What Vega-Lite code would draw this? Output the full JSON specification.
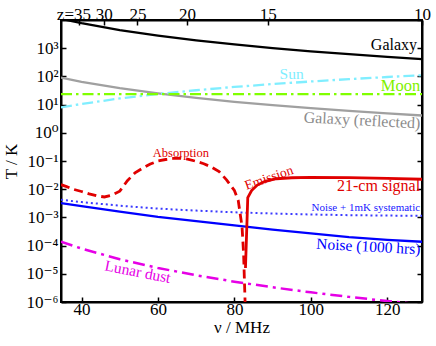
{
  "$schema": "https://vega.github.io/schema/vega-lite/v6.json",
  "width": 361,
  "height": 282,
  "autosize": {"type": "none"},
  "padding": {"left": 61, "top": 20, "right": 14, "bottom": 44},
  "background": "white",
  "config": {
    "view": {"stroke": "black", "strokeWidth": 2},
    "font": "'Liberation Serif', 'Times New Roman', 'DejaVu Serif', serif",
    "text": {"font": "'Liberation Serif', 'Times New Roman', 'DejaVu Serif', serif"},
    "axis": {
      "grid": false,
      "domainColor": "black",
      "domainWidth": 2,
      "tickColor": "black",
      "tickWidth": 1.5,
      "tickSize": -5,
      "labelColor": "black",
      "titleColor": "black",
      "labelFont": "'Liberation Serif', 'Times New Roman', 'DejaVu Serif', serif",
      "titleFont": "'Liberation Serif', 'Times New Roman', 'DejaVu Serif', serif",
      "labelFontSize": 17,
      "titleFontSize": 17,
      "titleFontWeight": "normal",
      "labelFlush": false,
      "labelOverlap": false
    }
  },
  "datasets": {
    "galaxy": [
      {"nu": 34.63, "T": 10990}, {"nu": 40, "T": 7672}, {"nu": 50, "T": 4392}, {"nu": 60, "T": 2784},
      {"nu": 70, "T": 1893}, {"nu": 80, "T": 1356}, {"nu": 90, "T": 1010}, {"nu": 100, "T": 776},
      {"nu": 110, "T": 612}, {"nu": 120, "T": 492}, {"nu": 129.09, "T": 410}
    ],
    "reflected": [
      {"nu": 34.63, "T": 90.3}, {"nu": 40, "T": 64.3}, {"nu": 50, "T": 38.1}, {"nu": 60, "T": 24.8},
      {"nu": 70, "T": 17.3}, {"nu": 80, "T": 12.6}, {"nu": 90, "T": 9.57}, {"nu": 100, "T": 7.47},
      {"nu": 110, "T": 5.97}, {"nu": 120, "T": 4.87}, {"nu": 129.09, "T": 4.1}
    ],
    "sun": [
      {"nu": 34.63, "T": 7.92}, {"nu": 40, "T": 10.56}, {"nu": 50, "T": 16.5}, {"nu": 60, "T": 23.8},
      {"nu": 70, "T": 32.3}, {"nu": 80, "T": 42.3}, {"nu": 90, "T": 53.5}, {"nu": 100, "T": 66.0},
      {"nu": 110, "T": 79.9}, {"nu": 120, "T": 95.1}, {"nu": 129.09, "T": 110}
    ],
    "moon": [
      {"nu": 34.63, "T": 23.5}, {"nu": 80, "T": 23.5}, {"nu": 129.09, "T": 23.5}
    ],
    "absorption": [
      {"nu": 34.63, "T": 0.0145}, {"nu": 36.1, "T": 0.0123}, {"nu": 38, "T": 0.0098}, {"nu": 40, "T": 0.0083},
      {"nu": 42, "T": 0.0068}, {"nu": 44, "T": 0.0058}, {"nu": 46, "T": 0.0053}, {"nu": 48, "T": 0.0062},
      {"nu": 50, "T": 0.0085}, {"nu": 52, "T": 0.02}, {"nu": 54, "T": 0.038}, {"nu": 56, "T": 0.056},
      {"nu": 58, "T": 0.078}, {"nu": 60, "T": 0.1}, {"nu": 62, "T": 0.113}, {"nu": 64, "T": 0.123},
      {"nu": 66, "T": 0.125}, {"nu": 68, "T": 0.115}, {"nu": 70, "T": 0.097}, {"nu": 72, "T": 0.08},
      {"nu": 74, "T": 0.061}, {"nu": 76, "T": 0.042}, {"nu": 78, "T": 0.021}, {"nu": 80, "T": 0.009},
      {"nu": 81, "T": 0.004}, {"nu": 82, "T": 0.00047}, {"nu": 82.4, "T": 0.000055}, {"nu": 82.8, "T": 0.000001},
      {"nu": 82.9, "T": 0.0000003}
    ],
    "emission": [
      {"nu": 82.9, "T": 0.000016}, {"nu": 83.5, "T": 0.005}, {"nu": 84.5, "T": 0.009}, {"nu": 86, "T": 0.014},
      {"nu": 88, "T": 0.019}, {"nu": 91, "T": 0.0235}, {"nu": 95, "T": 0.0255}, {"nu": 100, "T": 0.0262},
      {"nu": 110, "T": 0.0256}, {"nu": 120, "T": 0.0242}, {"nu": 129.09, "T": 0.0225}
    ],
    "noise": [
      {"nu": 34.63, "T": 0.0032}, {"nu": 40, "T": 0.0025}, {"nu": 50, "T": 0.0016}, {"nu": 60, "T": 0.00105},
      {"nu": 70, "T": 0.00074}, {"nu": 80, "T": 0.00052}, {"nu": 90, "T": 0.00037}, {"nu": 100, "T": 0.00027},
      {"nu": 110, "T": 0.0002}, {"nu": 120, "T": 0.00016}, {"nu": 129.09, "T": 0.000137}
    ],
    "noisesys": [
      {"nu": 34.63, "T": 0.0042}, {"nu": 40, "T": 0.0035}, {"nu": 50, "T": 0.0026}, {"nu": 60, "T": 0.00205},
      {"nu": 70, "T": 0.00174}, {"nu": 80, "T": 0.00152}, {"nu": 90, "T": 0.00137}, {"nu": 100, "T": 0.00127},
      {"nu": 110, "T": 0.0012}, {"nu": 120, "T": 0.00116}, {"nu": 129.09, "T": 0.001137}
    ],
    "dust": [
      {"nu": 34.63, "T": 0.000138}, {"nu": 40, "T": 0.0000784}, {"nu": 50, "T": 0.0000328}, {"nu": 60, "T": 0.0000161},
      {"nu": 70, "T": 0.00000884}, {"nu": 80, "T": 0.00000525}, {"nu": 90, "T": 0.00000332}, {"nu": 100, "T": 0.0000022},
      {"nu": 110, "T": 0.00000152}, {"nu": 120, "T": 0.00000108}, {"nu": 129.09, "T": 0.00000081}
    ],
    "labels": [
      {"label": "Galaxy", "nu": 127.8, "T": 863},
      {"label": "Sun", "nu": 94.97, "T": 80.9},
      {"label": "Moon", "nu": 128.6, "T": 31.6},
      {"label": "Galaxy (reflected)", "nu": 128.6, "T": 1.42},
      {"label": "21-cm signal", "nu": 128.6, "T": 0.00863},
      {"label": "Emission", "nu": 89.4, "T": 0.01845},
      {"label": "Absorption", "nu": 66.0, "T": 0.1387},
      {"label": "Noise + 1mK systematic", "nu": 128.6, "T": 0.001687},
      {"label": "Noise (1000 hrs)", "nu": 128.6, "T": 0.0000491},
      {"label": "Lunar dust", "nu": 54.47, "T": 0.00000788}
    ]
  },
  "layer": [
    {
      "encoding": {
        "x": {
          "field": "nu", "type": "quantitative",
          "scale": {"domain": [34.63, 129.09], "nice": false, "zero": false},
          "axis": {"orient": "bottom", "title": "ν / MHz", "values": [40, 60, 80, 100, 120], "labelPadding": 4, "titlePadding": 2}
        },
        "y": {
          "field": "T", "type": "quantitative",
          "scale": {"type": "log", "domain": [0.000001, 10000], "nice": false},
          "axis": {
            "orient": "left", "title": "T / K",
            "values": [0.000001, 0.00001, 0.0001, 0.001, 0.01, 0.1, 1, 10, 100, 1000],
            "labelExpr": "'10' + (round(log(datum.value)/LN10) < 0 ? '⁻' : '') + substring('⁰¹²³⁴⁵⁶⁷⁸⁹', abs(round(log(datum.value)/LN10)), abs(round(log(datum.value)/LN10)) + 1)",
            "labelPadding": 8, "titlePadding": 6
          }
        }
      },
      "layer": [
        {"data": {"name": "galaxy"}, "mark": {"type": "line", "clip": true, "color": "black", "strokeWidth": 2.3}},
        {"data": {"name": "reflected"}, "mark": {"type": "line", "clip": true, "color": "#a0a0a0", "strokeWidth": 2.3}},
        {"data": {"name": "sun"}, "mark": {"type": "line", "clip": true, "color": "#80eeff", "strokeWidth": 2.3, "strokeDash": [11, 4, 2.5, 4]}},
        {"data": {"name": "moon"}, "mark": {"type": "line", "clip": true, "color": "#80ff00", "strokeWidth": 2.3, "strokeDash": [11, 4, 2.5, 4]}},
        {"data": {"name": "noisesys"}, "mark": {"type": "line", "clip": true, "color": "#3a3aff", "strokeWidth": 2, "strokeDash": [2, 3]}},
        {"data": {"name": "noise"}, "mark": {"type": "line", "clip": true, "color": "#0000ff", "strokeWidth": 2.3}},
        {"data": {"name": "dust"}, "mark": {"type": "line", "clip": true, "color": "#e600e6", "strokeWidth": 2.5, "strokeDash": [12, 5, 3, 5]}},
        {"data": {"name": "absorption"}, "mark": {"type": "line", "clip": true, "color": "#e00000", "strokeWidth": 2.8, "strokeDash": [9, 5]}},
        {"data": {"name": "emission"}, "mark": {"type": "line", "clip": true, "color": "#e00000", "strokeWidth": 2.8}},
        {"data": {"name": "labels"}, "transform": [{"filter": "datum.label == 'Galaxy'"}],
         "mark": {"type": "text", "align": "right", "baseline": "alphabetic", "fontSize": 16, "color": "black"},
         "encoding": {"text": {"field": "label"}}},
        {"data": {"name": "labels"}, "transform": [{"filter": "datum.label == 'Sun'"}],
         "mark": {"type": "text", "align": "center", "baseline": "alphabetic", "fontSize": 15.5, "color": "#80eeff"},
         "encoding": {"text": {"field": "label"}}},
        {"data": {"name": "labels"}, "transform": [{"filter": "datum.label == 'Moon'"}],
         "mark": {"type": "text", "align": "right", "baseline": "alphabetic", "fontSize": 16.5, "color": "#80f000"},
         "encoding": {"text": {"field": "label"}}},
        {"data": {"name": "labels"}, "transform": [{"filter": "datum.label == 'Galaxy (reflected)'"}],
         "mark": {"type": "text", "align": "right", "baseline": "alphabetic", "fontSize": 16, "angle": 3, "color": "#8c8c8c"},
         "encoding": {"text": {"field": "label"}}},
        {"data": {"name": "labels"}, "transform": [{"filter": "datum.label == '21-cm signal'"}],
         "mark": {"type": "text", "align": "right", "baseline": "alphabetic", "fontSize": 16, "color": "#e00000"},
         "encoding": {"text": {"field": "label"}}},
        {"data": {"name": "labels"}, "transform": [{"filter": "datum.label == 'Emission'"}],
         "mark": {"type": "text", "align": "center", "baseline": "alphabetic", "fontSize": 13.5, "angle": -19, "color": "#e00000"},
         "encoding": {"text": {"field": "label"}}},
        {"data": {"name": "labels"}, "transform": [{"filter": "datum.label == 'Absorption'"}],
         "mark": {"type": "text", "align": "center", "baseline": "alphabetic", "fontSize": 12.5, "color": "#e00000"},
         "encoding": {"text": {"field": "label"}}},
        {"data": {"name": "labels"}, "transform": [{"filter": "datum.label == 'Noise + 1mK systematic'"}],
         "mark": {"type": "text", "align": "right", "baseline": "alphabetic", "fontSize": 11, "color": "#2020ff"},
         "encoding": {"text": {"field": "label"}}},
        {"data": {"name": "labels"}, "transform": [{"filter": "datum.label == 'Noise (1000 hrs)'"}],
         "mark": {"type": "text", "align": "right", "baseline": "alphabetic", "fontSize": 15.5, "angle": 3, "color": "#0000ff"},
         "encoding": {"text": {"field": "label"}}},
        {"data": {"name": "labels"}, "transform": [{"filter": "datum.label == 'Lunar dust'"}],
         "mark": {"type": "text", "align": "center", "baseline": "alphabetic", "fontSize": 15.5, "angle": 11, "color": "#e600e6"},
         "encoding": {"text": {"field": "label"}}}
      ]
    },
    {
      "data": {"values": [{"nu": 34.63, "T": 0.000001}, {"nu": 129.09, "T": 10000}]},
      "mark": {"type": "point", "opacity": 0},
      "encoding": {
        "x": {
          "field": "nu", "type": "quantitative",
          "scale": {"domain": [34.63, 129.09], "nice": false, "zero": false},
          "axis": {
            "orient": "top", "title": null,
            "values": [39.444, 45.806, 54.615, 67.619, 88.75, 129.09],
            "labelExpr": "datum.value < 40 ? 'z=35' : datum.value < 50 ? '30' : datum.value < 60 ? '25' : datum.value < 80 ? '20' : datum.value < 100 ? '15' : '10'",
            "labelOffset": {"condition": {"test": "datum.value < 40", "value": -6}, "value": 0},
            "labelPadding": 2
          }
        },
        "y": {
          "field": "T", "type": "quantitative",
          "scale": {"type": "log", "domain": [0.000001, 10000], "nice": false},
          "axis": {
            "orient": "right", "title": null, "labels": false,
            "values": [0.000001, 0.00001, 0.0001, 0.001, 0.01, 0.1, 1, 10, 100, 1000, 10000]
          }
        }
      }
    }
  ],
  "resolve": {"scale": {"x": "independent", "y": "independent"}}
}
